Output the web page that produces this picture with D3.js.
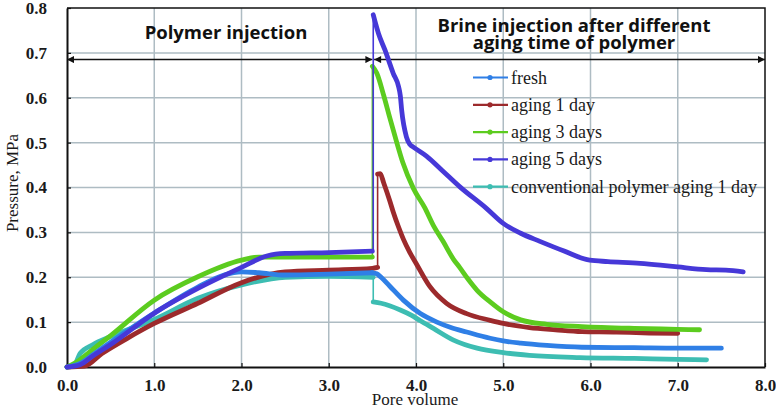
<!DOCTYPE html>
<html>
<head>
<meta charset="utf-8">
<script src="https://cdn.jsdelivr.net/npm/d3@7"></script>
<style>
  html, body { margin: 0; padding: 0; background: #fff; }
  svg { display: block; }
</style>
</head>
<body>
<svg id="chart" width="776" height="410"></svg>
<script>
// ---------- DATA ----------
const xTicks = [0, 1, 2, 3, 4, 5, 6, 7, 8];
const yTicks = [0, 0.1, 0.2, 0.3, 0.4, 0.5, 0.6, 0.7, 0.8];
const seriesNames = ["fresh", "aging 1 day", "aging 3 days", "aging 5 days", "conventional polymer aging 1 day"];
const seriesColors = ["#2f7fe6", "#9c2a2c", "#5ccc1f", "#4638d8", "#3dbdb2"];
const phaseTitles = ["Polymer injection", "Brine injection after different", "aging time of polymer"];
const phaseArrowLevel = 0.685;
const phaseBounds = [[0, 3.5], [3.52, 8.0]];

// polymer-injection phase [pore volume, MPa]
const freshPolymer = [[0,0],[0.15,0.008],[0.3,0.028],[0.5,0.055],[1.0,0.12],[1.5,0.178],[1.8,0.205],[2.0,0.212],[2.2,0.21],[2.5,0.205],[3.0,0.207],[3.5,0.21]];
const day1Polymer  = [[0,0],[0.2,0.002],[0.4,0.03],[0.7,0.065],[1.0,0.097],[1.5,0.142],[2.0,0.188],[2.5,0.212],[3.0,0.216],[3.5,0.22],[3.56,0.222]];
const day3Polymer  = [[0,0],[0.1,0.01],[0.3,0.04],[0.5,0.07],[1.0,0.149],[1.5,0.201],[2.0,0.238],[2.2,0.245],[2.5,0.245],[3.0,0.245],[3.5,0.245]];
const day5Polymer  = [[0,0],[0.15,0.005],[0.3,0.025],[0.5,0.05],[1.0,0.12],[1.5,0.175],[2.0,0.222],[2.3,0.248],[2.5,0.253],[3.0,0.255],[3.5,0.258]];
const convPolymer  = [[0,0],[0.08,0.003],[0.15,0.03],[0.3,0.05],[0.5,0.068],[1.0,0.106],[1.5,0.153],[2.0,0.183],[2.5,0.2],[3.0,0.202],[3.51,0.2]];

// brine-injection phase
const freshBrine = [[3.5,0.21],[3.55,0.208],[3.6,0.2],[3.7,0.18],[3.855,0.149],[4.05,0.119],[4.24,0.1],[4.4,0.088],[4.58,0.078],[4.85,0.064],[5.0,0.058],[5.2,0.053],[5.5,0.048],[5.9,0.044],[6.5,0.043],[7.0,0.042],[7.5,0.042]];
const day1Brine  = [[3.56,0.43],[3.59,0.431],[3.63,0.41],[3.7,0.37],[3.74,0.345],[3.8,0.312],[3.855,0.285],[3.93,0.255],[4.01,0.228],[4.16,0.179],[4.35,0.142],[4.58,0.119],[4.85,0.104],[5.0,0.097],[5.3,0.088],[5.6,0.083],[5.9,0.079],[6.3,0.078],[6.6,0.076],[7.0,0.075]];
const day3Brine  = [[3.5,0.67],[3.55,0.655],[3.63,0.605],[3.7,0.555],[3.78,0.5],[3.85,0.455],[3.97,0.398],[4.1,0.355],[4.2,0.315],[4.31,0.28],[4.43,0.24],[4.5,0.222],[4.6,0.195],[4.7,0.171],[4.85,0.145],[5.0,0.123],[5.2,0.105],[5.5,0.095],[5.9,0.09],[6.5,0.086],[7.0,0.084],[7.25,0.083]];
const day5Brine  = [[3.51,0.785],[3.53,0.77],[3.57,0.743],[3.645,0.706],[3.74,0.654],[3.8,0.625],[3.82,0.605],[3.836,0.572],[3.89,0.513],[3.93,0.496],[3.97,0.49],[4.12,0.47],[4.3,0.438],[4.5,0.402],[4.81,0.353],[5.0,0.32],[5.2,0.298],[5.42,0.28],[5.69,0.259],[5.99,0.238],[6.2,0.235],[6.57,0.231],[6.8,0.227],[7.0,0.223],[7.33,0.217],[7.55,0.216],[7.75,0.212]];
const convBrine  = [[3.51,0.145],[3.6,0.142],[3.82,0.127],[3.95,0.115],[4.05,0.103],[4.2,0.086],[4.43,0.06],[4.7,0.042],[5.0,0.032],[5.3,0.026],[5.88,0.021],[6.5,0.019],[7.0,0.017],[7.33,0.016]];

const polymerSets = [freshPolymer, day1Polymer, day3Polymer, day5Polymer, convPolymer];
const brineSets   = [freshBrine, day1Brine, day3Brine, day5Brine, convBrine];
const drawOrder = [4, 1, 2, 0, 3];

// ---------- CHART ----------
const svg = d3.select("#chart");
const L = 67, R = 765, T = 8, B = 367;
const x = d3.scaleLinear().domain([0, 8]).range([L, R]);
const y = d3.scaleLinear().domain([0, 0.8]).range([B, T]);
const gridColor = "#aebcc3";
const serif = "'Liberation Serif', 'Times New Roman', serif";
const sans = "'Open Sans', Lato, sans-serif";

// gridlines
svg.append("g").selectAll("line").data(xTicks.filter(d => d > 0 && d < 8)).join("line")
  .attr("x1", d => x(d)).attr("x2", d => x(d)).attr("y1", T).attr("y2", B)
  .attr("stroke", gridColor).attr("stroke-width", 1.5);
svg.append("g").selectAll("line").data(yTicks.filter(d => d > 0 && d < 0.8)).join("line")
  .attr("x1", L).attr("x2", R).attr("y1", d => y(d)).attr("y2", d => y(d))
  .attr("stroke", gridColor).attr("stroke-width", 1.5);

// frame (top/right)
svg.append("path")
  .attr("d", `M${L},${T}H${R}V${B}`)
  .attr("fill", "none").attr("stroke", "#111").attr("stroke-width", 1.5);

// axes
const xAxis = d3.axisBottom(x).tickValues(xTicks).tickFormat(d3.format(".1f"))
  .tickSizeInner(-4).tickSizeOuter(0).tickPadding(12);
const yAxis = d3.axisLeft(y).tickValues(yTicks).tickFormat(d3.format(".1f"))
  .tickSizeInner(-4).tickSizeOuter(0).tickPadding(20);

const gx = svg.append("g").attr("transform", `translate(0,${B})`).call(xAxis);
const gy = svg.append("g").attr("transform", `translate(${L},0)`).call(yAxis);
[gx, gy].forEach(g => {
  g.select(".domain").attr("stroke", "#111").attr("stroke-width", 2);
  g.selectAll(".tick line").attr("stroke", "#111").attr("stroke-width", 1.2);
  g.selectAll(".tick text").attr("font-family", serif).attr("font-weight", "bold")
    .attr("font-size", 17).attr("fill", "#1a1a1a");
});

// axis titles
svg.append("text").attr("x", 415).attr("y", 405).attr("text-anchor", "middle")
  .attr("font-family", serif).attr("font-size", 17).attr("fill", "#1a1a1a").text("Pore volume");
svg.append("text").attr("transform", "translate(18,183) rotate(-90)").attr("text-anchor", "middle")
  .attr("font-family", serif).attr("font-size", 17).attr("fill", "#1a1a1a").text("Pressure, MPa");

// phase arrows
const defs = svg.append("defs");
defs.append("marker").attr("id", "ah").attr("viewBox", "0 0 10 10").attr("refX", 10).attr("refY", 5)
  .attr("markerWidth", 9).attr("markerHeight", 7).attr("markerUnits", "userSpaceOnUse")
  .attr("orient", "auto-start-reverse")
  .append("path").attr("d", "M0,0L10,5L0,10Z").attr("fill", "#111");
svg.append("g").selectAll("line").data(phaseBounds).join("line")
  .attr("x1", d => x(d[0])).attr("x2", d => x(d[1]))
  .attr("y1", y(phaseArrowLevel)).attr("y2", y(phaseArrowLevel))
  .attr("stroke", "#111").attr("stroke-width", 1.5)
  .attr("marker-start", "url(#ah)").attr("marker-end", "url(#ah)");

// phase titles
svg.append("text").attr("x", 226).attr("y", 39).attr("text-anchor", "middle")
  .attr("font-family", sans).attr("font-weight", "bold").attr("font-size", 18.5).attr("fill", "#111")
  .text(phaseTitles[0]);
const t2 = svg.append("text").attr("text-anchor", "middle")
  .attr("font-family", sans).attr("font-weight", "bold").attr("font-size", 18.5).attr("fill", "#111");
t2.append("tspan").attr("x", 574).attr("y", 32).text(phaseTitles[1]);
t2.append("tspan").attr("x", 574).attr("y", 49).text(phaseTitles[2]);

// series
const line = d3.line().x(d => x(d[0])).y(d => y(d[1])).curve(d3.curveMonotoneX);
const lineStraight = d3.line().x(d => x(d[0])).y(d => y(d[1]));
const gs = svg.append("g");
drawOrder.forEach(i => {
  const c = seriesColors[i];
  const p = polymerSets[i], b = brineSets[i];
  gs.append("path").attr("d", lineStraight([p[p.length - 1], [b[0][0], p[p.length - 1][1]], b[0]]))
    .attr("fill", "none").attr("stroke", c).attr("stroke-width", 1.6);
  [p, b].forEach(arr => {
    gs.append("path").attr("d", line(arr))
      .attr("fill", "none").attr("stroke", c).attr("stroke-width", 4.8)
      .attr("stroke-linecap", "round").attr("stroke-linejoin", "round");
  });
});

// legend
const lg = svg.append("g");
seriesNames.forEach((name, i) => {
  const ly = 77.5 + i * 27.3;
  lg.append("line").attr("x1", 473).attr("x2", 508).attr("y1", ly).attr("y2", ly)
    .attr("stroke", seriesColors[i]).attr("stroke-width", 2.2);
  lg.append("circle").attr("cx", 490).attr("cy", ly).attr("r", 2.6).attr("fill", seriesColors[i]);
  lg.append("text").attr("x", 511).attr("y", ly + 6).attr("font-family", serif)
    .attr("font-size", 18).attr("fill", "#1a1a1a").text(name);
});
</script>
</body>
</html>
